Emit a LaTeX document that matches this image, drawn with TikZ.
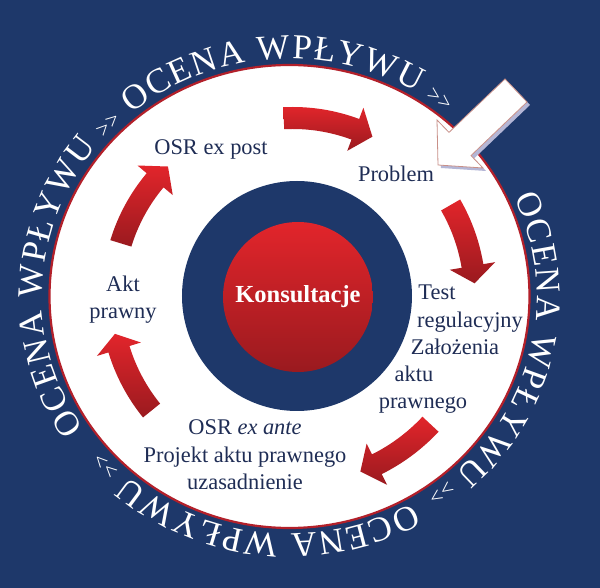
\documentclass[tikz,border=0pt]{standalone}
\usepackage{fontspec}
\setmainfont{Liberation Serif}
\usetikzlibrary{decorations.text}
\definecolor{navy}{HTML}{1E386A}
\definecolor{ink}{HTML}{1F2D55}
\definecolor{rim}{HTML}{B3202A}
\definecolor{redlight}{HTML}{E2252B}
\definecolor{reddark}{HTML}{9A1A1F}
\definecolor{shadowc}{HTML}{B4B6D6}
\definecolor{pointer}{HTML}{C99088}
\tikzset{
  lbl/.style={font=\fontsize{22.4}{27.5}\selectfont,text=ink,align=center,inner sep=0pt,anchor=base},
  cyclearr/.style={top color=redlight,bottom color=reddark},
  ball/.style={circle,inner sep=0pt,minimum size=150,top color=redlight,bottom color=reddark,
    text=white,font=\fontsize{24.5}{28}\selectfont\bfseries},
  hub/.style={circle,inner sep=0pt,minimum size=230,fill=navy},
  ring/.style={decorate,decoration={text along path,text color=white,
    text={|\fontsize{35}{35}\selectfont\kern1.5pt|OCENA WPŁYWU |\fontsize{22}{22}\selectfont|>>}}},
}
% radius, tail angle, head base angle, tip angle
\newcommand{\cyclearrow}[4]{%
  \shade[cyclearr] ({#2}:{#1+11}) arc[start angle=#2,end angle=#3,radius=#1+11]
    -- ({#3}:{#1+23}) -- ({#4}:{#1}) -- ({#3}:{#1-23}) -- ({#3}:{#1-11})
    arc[start angle=#3,end angle=#2,radius=#1-11] -- cycle;}

\begin{document}
\begin{tikzpicture}[x=1pt,y=1pt]
  \fill[navy] (-293,-292) rectangle (307,296);
  \useasboundingbox (-293,-292) rectangle (307,296);

  \filldraw[fill=white,draw=rim,line width=2.2] (-3.5,-0.5) ellipse [x radius=240,y radius=231.5];

  % text round the rim
  \path[ring,shift={(-3.5,-0.5)}] (130:247.5 and 237.5) arc[start angle=130,end angle=46,x radius=247.5,y radius=237.5];
  \path[ring,shift={(-3.5,-0.5)}] (25:247.5 and 237.5) arc[start angle=25,end angle=-59,x radius=247.5,y radius=237.5];
  \path[ring,shift={(-3.5,-0.5)}] (-60:247.5 and 237.5) arc[start angle=-60,end angle=-144,x radius=247.5,y radius=237.5];
  \path[ring,shift={(-3.5,-0.5)}] (214:247.5 and 237.5) arc[start angle=214,end angle=130,x radius=247.5,y radius=237.5];

  \node[hub] (hub) at (4,0) {};
  \node[ball] (konsultacje) at (5,-1) {Konsultacje};

  \cyclearrow{178}{93}{69.5}{63.5}
  \cyclearrow{182}{30}{9.5}{4}
  \cyclearrow{188}{-43}{-63.5}{-69}
  \cyclearrow{182}{-141}{-163}{-168}
  \cyclearrow{180}{163}{140}{134}

  \node[lbl] (expost) at (-82,141) {OSR ex post};
  \node[lbl] (problem) at (103,114) {Problem};
  \node[lbl] (akt) at (-170,4) {Akt};
  \node[lbl] (prawny) at (-170,-23) {prawny};
  \node[lbl] (test) at (144,-4) {Test};
  \node[lbl] (regulacyjny) at (177,-31.5) {regulacyjny};
  \node[lbl] (zalozenia) at (162,-59) {Założenia};
  \node[lbl] (aktu) at (121,-86) {aktu};
  \node[lbl] (prawnego) at (130,-113) {prawnego};
  \node[lbl,anchor=center] (exante) at (-48,-159) {OSR \textit{ex ante}\\Projekt aktu prawnego\\uzasadnienie};

  % entry pointer
  \fill[shadowc] (237,191) -- (181,137.4) -- (193,125) -- (148,128) -- (147,173) -- (159,160.6) -- (215,214) -- cycle;
  \filldraw[fill=white,draw=pointer,line width=0.8] (234,194) -- (178,140.4) -- (190,128) -- (145,131)
    -- (144,176) -- (156,163.6) -- (212,217) -- cycle;
\end{tikzpicture}
\end{document}
